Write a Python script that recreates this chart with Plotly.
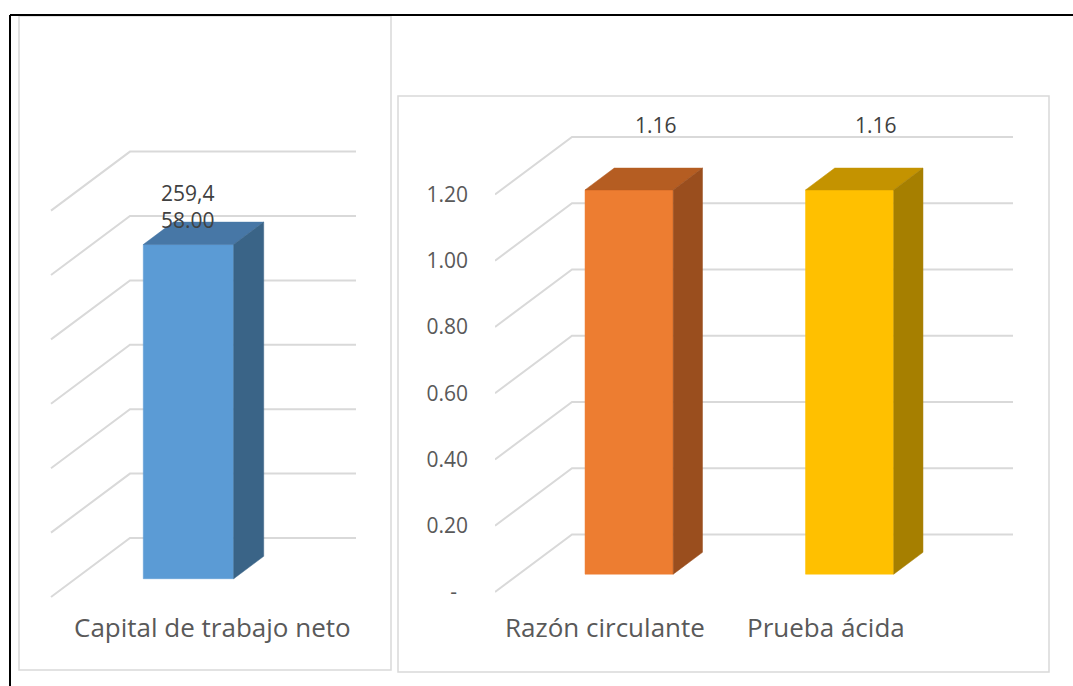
import plotly.graph_objects as go

W, H = 1073, 686

# ---- data ----
capital_categories = ["Capital de trabajo neto"]
capital_values = [259458.00]
capital_ticks = [0, 50000, 100000, 150000, 200000, 250000, 300000]

ratio_categories = ["Razón circulante", "Prueba ácida"]
ratio_values = [1.16, 1.16]
ratio_ticks = [0, 0.2, 0.4, 0.6, 0.8, 1.0, 1.2]
ratio_tick_labels = ["-\u00a0\u00a0", "0.20", "0.40", "0.60", "0.80", "1.00", "1.20"]

# face colours: (front, top, side)
capital_colors = [("#5B9BD5", "#4777A6", "#3A6487")]
ratio_colors = [("#ED7D31", "#B55D22", "#9A4E1E"),
                ("#FFC000", "#C49300", "#A67F00")]

GRID = "#D9D9D9"
FONT = "Open Sans"

# ---- panel geometry (pixels) ----
panels = {
    "left": dict(xa="x", ya="y", x0=51, xu=226.0, y0=597, yu=64.4 / 50000,
                 ddx=79, ddy=59, xr=[-0.6, 0.9], yr=[-30000, 370000]),
    "right": dict(xa="x2", ya="y2", x0=495, xu=220.5, y0=592, yu=331.25,
                  ddx=77, ddy=57.5, xr=[-0.5, 1.9], yr=[-0.2, 1.5]),
}
for p in panels.values():
    p["DX"] = p["ddx"] / p["xu"]
    p["DY"] = p["ddy"] / p["yu"]
    p["xdom"] = [(p["x0"] + (p["xr"][0] + 0.5) * p["xu"]) / W,
                 (p["x0"] + (p["xr"][1] + 0.5) * p["xu"]) / W]
    p["ydom"] = [1 - (p["y0"] - p["yr"][0] * p["yu"]) / H,
                 1 - (p["y0"] - p["yr"][1] * p["yu"]) / H]

HALF_W = 0.2          # half bar width in category units
D_FRONT, D_BACK = 0.31, 0.69  # bar depth span within the floor

fig = go.Figure()


def gridlines(p, ticks, n):
    xs, ys = [], []
    for t in ticks:
        xs += [-0.5, -0.5 + p["DX"], n - 0.5 + p["DX"], None]
        ys += [t, t + p["DY"], t + p["DY"], None]
    fig.add_trace(go.Scatter(x=xs, y=ys, mode="lines", xaxis=p["xa"], yaxis=p["ya"],
                             line=dict(color=GRID, width=2), hoverinfo="skip",
                             showlegend=False))


def bar3d(p, c, v, cols):
    DX, DY = p["DX"], p["DY"]
    xl_f, xr_f = c - HALF_W + D_FRONT * DX, c + HALF_W + D_FRONT * DX
    xl_b, xr_b = c - HALF_W + D_BACK * DX, c + HALF_W + D_BACK * DX
    yb_f, yb_b = D_FRONT * DY, D_BACK * DY
    yt_f, yt_b = v + D_FRONT * DY, v + D_BACK * DY
    faces = [
        ([xl_f, xr_f, xr_f, xl_f, xl_f], [yb_f, yb_f, yt_f, yt_f, yb_f], cols[0]),
        ([xl_f, xr_f, xr_b, xl_b, xl_f], [yt_f, yt_f, yt_b, yt_b, yt_f], cols[1]),
        ([xr_f, xr_b, xr_b, xr_f, xr_f], [yb_f, yb_b, yt_b, yt_f, yb_f], cols[2]),
    ]
    for xs, ys, col in faces:
        fig.add_trace(go.Scatter(x=xs, y=ys, mode="lines", fill="toself",
                                 fillcolor=col, line=dict(color=col, width=0.5),
                                 xaxis=p["xa"], yaxis=p["ya"], hoverinfo="skip",
                                 showlegend=False))


L, R = panels["left"], panels["right"]

gridlines(L, capital_ticks, len(capital_categories))
for i, (v, cols) in enumerate(zip(capital_values, capital_colors)):
    bar3d(L, i, v, cols)

gridlines(R, ratio_ticks, len(ratio_categories))
for i, (v, cols) in enumerate(zip(ratio_values, ratio_colors)):
    bar3d(R, i, v, cols)

annotations = []
# value labels
for i, v in enumerate(capital_values):
    s = f"{v:,.2f}"
    annotations.append(dict(text=s[:5] + "<br>" + s[5:], xref="x", yref="y",
                            x=i + 0.3 * L["DX"], y=v + D_BACK * L["DY"],
                            yshift=16, showarrow=False, xanchor="center", yanchor="middle",
                            font=dict(family=FONT, size=21, color="#404040")))
for i, v in enumerate(ratio_values):
    annotations.append(dict(text=f"{v:.2f}", xref="x2", yref="y2",
                            x=i + 0.23, y=v + D_BACK * R["DY"], yshift=43,
                            showarrow=False, xanchor="center", yanchor="middle",
                            font=dict(family=FONT, size=21, color="#404040")))
# category labels
annotations.append(dict(text=capital_categories[0], xref="paper", yref="paper",
                        x=212 / W, y=1 - 627 / H, showarrow=False,
                        xanchor="center", yanchor="middle",
                        font=dict(family=FONT, size=26, color="#595959")))
for i, name in enumerate(ratio_categories):
    annotations.append(dict(text=name, xref="x2", yref="paper", x=i, y=1 - 627 / H,
                            showarrow=False, xanchor="center", yanchor="middle",
                            font=dict(family=FONT, size=26, color="#595959")))

shapes = [
    # chart area borders
    dict(type="rect", xref="paper", yref="paper", x0=19 / W, x1=391 / W,
         y0=1 - 670 / H, y1=1 - 16 / H, line=dict(color=GRID, width=1.5)),
    dict(type="rect", xref="paper", yref="paper", x0=398 / W, x1=1049 / W,
         y0=1 - 672 / H, y1=1 - 96 / H, line=dict(color=GRID, width=1.5)),
    # outer frame
    dict(type="line", xref="paper", yref="paper", x0=10 / W, x1=1,
         y0=1 - 15 / H, y1=1 - 15 / H, line=dict(color="black", width=2)),
    dict(type="line", xref="paper", yref="paper", x0=10 / W, x1=10 / W,
         y0=0, y1=1 - 15 / H, line=dict(color="black", width=2)),
]

hidden = dict(showgrid=False, zeroline=False, showline=False, showticklabels=False,
              ticks="", fixedrange=True)

fig.update_layout(
    width=W, height=H, margin=dict(l=0, r=0, t=0, b=0),
    paper_bgcolor="white", plot_bgcolor="rgba(0,0,0,0)",
    showlegend=False,
    xaxis=dict(domain=L["xdom"], range=L["xr"], anchor="y", **hidden),
    yaxis=dict(domain=L["ydom"], range=L["yr"], anchor="x", **hidden),
    xaxis2=dict(domain=R["xdom"], range=R["xr"], anchor="y2", **hidden),
    yaxis2=dict(domain=R["ydom"], range=R["yr"], anchor="x2",
                showgrid=False, zeroline=False, showline=False, fixedrange=True,
                tickmode="array", tickvals=ratio_ticks, ticktext=ratio_tick_labels,
                ticks="", ticklabelstandoff=26,
                tickfont=dict(family=FONT, size=21, color="#595959")),
    annotations=annotations, shapes=shapes,
)

fig.write_html("out.html")
